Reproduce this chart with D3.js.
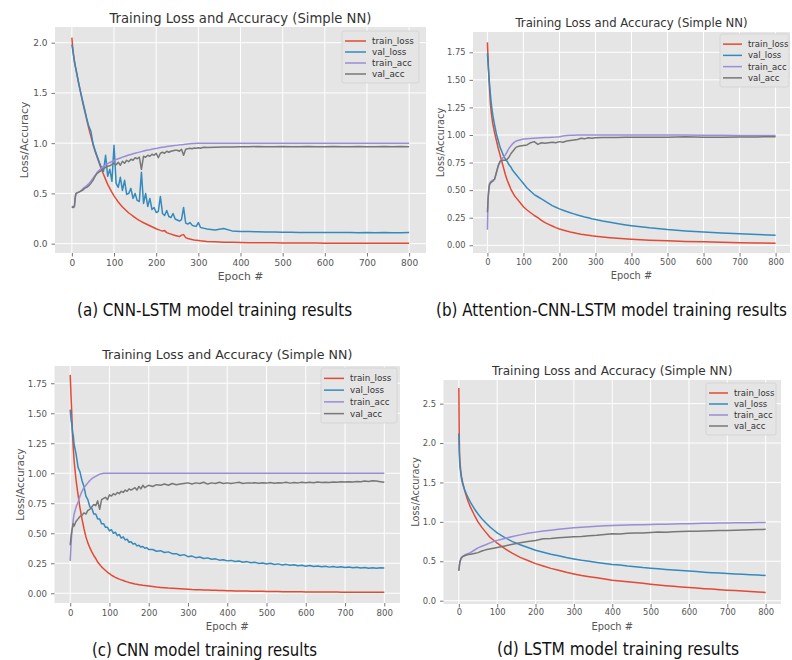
<!DOCTYPE html>
<html>
<head>
<meta charset="utf-8">
<script src="https://cdn.jsdelivr.net/npm/d3@7"></script>
<style>
  body { margin: 0; background: #fff; }
  svg { display: block; }
</style>
</head>
<body>
<svg id="fig" width="792" height="660"></svg>
<script>
// ---- data ----
var seriesNames = ["train_loss", "val_loss", "train_acc", "val_acc"];
var xTicks = [0, 100, 200, 300, 400, 500, 600, 700, 800];
var captions = [
    "(a) CNN-LSTM model training results",
    "(b) Attention-CNN-LSTM model training results",
    "(c) CNN model training results",
    "(d)  LSTM model training results"
];
var chartTitle = "Training Loss and Accuracy (Simple NN)";

// (a) CNN-LSTM
var epochsA = [0,2,4,6,8,10,15,20,25,30,
    35,40,45,50,55,60,65,70,75,80,
    85,90,95,100,105,110,115,120,125,130,
    135,140,145,150,155,160,165,170,175,180,
    185,190,195,200,205,210,215,220,225,230,
    235,240,245,250,255,260,265,270,275,280,
    285,290,295,300,305,310,315,320,340,360,
    380,400,420,440,460,480,500,520,540,560,
    580,600,620,640,660,680,700,720,740,760,
    780,800];
var trainLossA = [2.05,1.95,1.88,1.82,1.77,1.73,1.62,1.52,1.42,1.33,
    1.24,1.15,1.07,0.99,0.92,0.86,0.80,0.74,0.69,0.64,
    0.59,0.55,0.51,0.475,0.445,0.415,0.39,0.365,0.345,0.325,
    0.305,0.29,0.275,0.26,0.245,0.232,0.22,0.208,0.198,0.188,
    0.178,0.168,0.158,0.148,0.14,0.132,0.125,0.13,0.11,0.102,
    0.095,0.088,0.082,0.076,0.07,0.085,0.09,0.06,0.052,0.046,
    0.041,0.037,0.034,0.031,0.028,0.026,0.024,0.022,0.018,0.015,
    0.013,0.011,0.01,0.009,0.008,0.008,0.007,0.007,0.006,0.006,
    0.006,0.005,0.005,0.005,0.005,0.005,0.004,0.004,0.004,0.004,
    0.004,0.004];
var valLossA = [1.98,1.93,1.87,1.81,1.77,1.73,1.62,1.52,1.43,1.34,
    1.25,1.17,1.12,1.0,0.93,0.87,0.81,0.76,0.72,0.88,
    0.67,0.74,0.62,0.98,0.6,0.56,0.66,0.53,0.63,0.49,
    0.5,0.55,0.45,0.5,0.43,0.42,0.71,0.4,0.5,0.37,
    0.45,0.34,0.36,0.31,0.32,0.47,0.3,0.28,0.33,0.27,
    0.26,0.3,0.245,0.235,0.225,0.24,0.36,0.205,0.195,0.21,
    0.185,0.175,0.172,0.21,0.162,0.155,0.152,0.145,0.137,0.15,
    0.127,0.122,0.12,0.118,0.116,0.115,0.113,0.114,0.112,0.111,
    0.112,0.11,0.11,0.111,0.11,0.109,0.11,0.109,0.11,0.108,
    0.109,0.11];
var trainAccA = [0.37,0.37,0.37,0.37,0.45,0.5,0.51,0.52,0.54,0.56,
    0.575,0.595,0.62,0.65,0.68,0.71,0.73,0.75,0.77,0.785,
    0.797,0.808,0.818,0.828,0.837,0.845,0.853,0.861,0.868,0.875,
    0.882,0.888,0.894,0.9,0.906,0.911,0.916,0.921,0.926,0.931,
    0.935,0.94,0.944,0.948,0.952,0.956,0.96,0.963,0.966,0.969,
    0.972,0.975,0.978,0.98,0.983,0.985,0.987,0.99,0.992,0.994,
    0.996,0.997,0.998,0.999,1.0,1.0,1.0,1.0,1.0,1.0,
    1.0,1.0,1.0,1.0,1.0,1.0,1.0,1.0,1.0,1.0,
    1.0,1.0,1.0,1.0,1.0,1.0,1.0,1.0,1.0,1.0,
    1.0,1.0];
var valAccA = [0.37,0.36,0.36,0.37,0.47,0.5,0.51,0.52,0.53,0.55,
    0.56,0.575,0.6,0.63,0.67,0.7,0.715,0.73,0.745,0.76,
    0.77,0.775,0.79,0.8,0.785,0.81,0.78,0.82,0.8,0.83,
    0.815,0.84,0.83,0.855,0.845,0.86,0.74,0.87,0.86,0.88,
    0.87,0.89,0.88,0.9,0.855,0.9,0.91,0.9,0.92,0.91,
    0.92,0.925,0.93,0.93,0.92,0.94,0.88,0.94,0.945,0.95,
    0.945,0.952,0.95,0.955,0.95,0.957,0.96,0.956,0.96,0.962,
    0.963,0.965,0.964,0.966,0.965,0.964,0.966,0.965,0.964,0.966,
    0.965,0.964,0.966,0.965,0.964,0.966,0.965,0.964,0.966,0.965,
    0.966,0.965];

// (b) Attention-CNN-LSTM
var epochsB = [0,1,2,3,4,5,6,8,10,12,
    15,20,25,30,35,40,45,50,55,60,
    65,70,75,80,90,100,110,120,130,140,
    150,160,170,180,190,200,210,220,230,240,
    250,260,270,280,290,300,320,340,360,380,
    400,450,500,550,600,650,700,750,800];
var trainLossB = [1.84,1.76,1.68,1.6,1.53,1.47,1.41,1.3,1.23,1.17,
    1.1,1.02,0.95,0.88,0.82,0.76,0.7,0.64,0.59,0.55,
    0.51,0.48,0.45,0.43,0.39,0.35,0.32,0.295,0.27,0.25,
    0.225,0.205,0.19,0.175,0.16,0.148,0.138,0.129,0.121,0.114,
    0.107,0.101,0.096,0.091,0.086,0.082,0.075,0.069,0.064,0.059,
    0.055,0.046,0.04,0.035,0.031,0.027,0.024,0.021,0.019];
var valLossB = [1.74,1.69,1.64,1.59,1.55,1.5,1.46,1.38,1.31,1.25,
    1.18,1.09,1.01,0.95,0.89,0.85,0.81,0.78,0.76,0.73,
    0.71,0.68,0.66,0.64,0.6,0.56,0.52,0.49,0.46,0.44,
    0.42,0.4,0.38,0.36,0.345,0.33,0.318,0.306,0.295,0.285,
    0.275,0.266,0.257,0.249,0.241,0.234,0.22,0.208,0.197,0.187,
    0.178,0.158,0.142,0.13,0.12,0.111,0.104,0.097,0.091];
var trainAccB = [0.14,0.3,0.42,0.48,0.52,0.55,0.56,0.57,0.58,0.585,
    0.59,0.6,0.66,0.72,0.76,0.78,0.8,0.82,0.85,0.88,
    0.9,0.92,0.935,0.945,0.955,0.963,0.966,0.969,0.971,0.973,
    0.975,0.977,0.978,0.98,0.982,0.985,0.99,0.995,0.997,0.998,
    1.0,1.0,1.0,1.0,1.0,1.0,1.0,1.0,1.0,1.0,
    1.0,1.0,1.0,1.0,0.998,0.997,0.996,0.995,0.995];
var valAccB = [0.3,0.36,0.43,0.47,0.5,0.53,0.55,0.56,0.57,0.575,
    0.58,0.6,0.66,0.72,0.76,0.77,0.77,0.77,0.78,0.8,
    0.83,0.85,0.87,0.89,0.9,0.905,0.91,0.93,0.94,0.915,
    0.93,0.925,0.93,0.935,0.93,0.94,0.935,0.945,0.95,0.955,
    0.96,0.97,0.965,0.975,0.97,0.975,0.977,0.978,0.978,0.98,
    0.98,0.98,0.98,0.985,0.98,0.98,0.982,0.983,0.985];

// (c) CNN
var epochsC = [0,2,4,6,8,10,15,20,25,30,
    35,40,45,50,55,60,65,70,75,80,
    85,90,95,100,105,110,115,120,125,130,
    135,140,145,150,155,160,165,170,175,180,
    185,190,195,200,210,220,230,240,250,260,
    270,280,290,300,310,320,330,340,350,360,
    370,380,390,400,410,420,430,440,450,460,
    470,480,490,500,510,520,530,540,550,560,
    570,580,590,600,610,620,630,640,650,660,
    670,680,690,700,710,720,730,740,750,760,
    770,780,790,800];
var trainLossC = [1.82,1.65,1.5,1.32,1.2,1.1,0.94,0.82,0.71,0.62,
    0.54,0.47,0.42,0.38,0.345,0.315,0.29,0.26,0.24,0.22,
    0.205,0.19,0.175,0.163,0.152,0.142,0.133,0.125,0.118,0.112,
    0.106,0.1,0.095,0.09,0.086,0.082,0.078,0.075,0.072,0.069,
    0.066,0.064,0.062,0.06,0.056,0.052,0.049,0.046,0.043,0.041,
    0.039,0.037,0.035,0.033,0.031,0.03,0.029,0.028,0.027,0.026,
    0.025,0.024,0.023,0.022,0.021,0.02,0.019,0.019,0.018,0.017,
    0.017,0.016,0.016,0.015,0.015,0.014,0.014,0.013,0.013,0.013,
    0.012,0.012,0.012,0.011,0.011,0.011,0.011,0.01,0.01,0.01,
    0.01,0.01,0.009,0.009,0.009,0.009,0.009,0.009,0.008,0.008,
    0.008,0.008,0.008,0.008];
var valLossC = [1.53,1.45,1.41,1.34,1.31,1.24,1.16,1.05,1.01,0.94,
    0.89,0.81,0.78,0.72,0.71,0.66,0.66,0.62,0.62,0.58,
    0.58,0.55,0.55,0.52,0.53,0.5,0.51,0.48,0.49,0.46,
    0.47,0.445,0.45,0.425,0.43,0.41,0.415,0.395,0.4,0.385,
    0.39,0.375,0.38,0.365,0.365,0.35,0.355,0.34,0.345,0.33,
    0.33,0.315,0.322,0.305,0.31,0.297,0.302,0.29,0.295,0.283,
    0.287,0.276,0.28,0.27,0.274,0.265,0.269,0.259,0.264,0.254,
    0.258,0.249,0.253,0.244,0.25,0.24,0.245,0.236,0.241,0.233,
    0.237,0.229,0.234,0.226,0.232,0.223,0.228,0.221,0.226,0.218,
    0.224,0.216,0.221,0.214,0.219,0.212,0.217,0.21,0.215,0.209,
    0.213,0.208,0.212,0.21];
var trainAccC = [0.27,0.4,0.5,0.56,0.62,0.66,0.72,0.76,0.81,0.85,
    0.88,0.9,0.92,0.94,0.955,0.965,0.975,0.985,0.992,0.997,
    1.0,1.0,1.0,1.0,1.0,1.0,1.0,1.0,1.0,1.0,
    1.0,1.0,1.0,1.0,1.0,1.0,1.0,1.0,1.0,1.0,
    1.0,1.0,1.0,1.0,1.0,1.0,1.0,1.0,1.0,1.0,
    1.0,1.0,1.0,1.0,1.0,1.0,1.0,1.0,1.0,1.0,
    1.0,1.0,1.0,1.0,1.0,1.0,1.0,1.0,1.0,1.0,
    1.0,1.0,1.0,1.0,1.0,1.0,1.0,1.0,1.0,1.0,
    1.0,1.0,1.0,1.0,1.0,1.0,1.0,1.0,1.0,1.0,
    1.0,1.0,1.0,1.0,1.0,1.0,1.0,1.0,1.0,1.0,
    1.0,1.0,1.0,1.0];
var valAccC = [0.4,0.47,0.52,0.55,0.58,0.56,0.6,0.62,0.64,0.65,
    0.67,0.66,0.69,0.7,0.72,0.74,0.73,0.77,0.7,0.78,
    0.79,0.8,0.78,0.82,0.81,0.83,0.82,0.84,0.83,0.85,
    0.84,0.86,0.85,0.87,0.86,0.87,0.88,0.86,0.89,0.87,
    0.9,0.88,0.89,0.9,0.89,0.905,0.9,0.91,0.9,0.915,
    0.905,0.91,0.915,0.92,0.91,0.92,0.915,0.925,0.91,0.92,
    0.915,0.925,0.915,0.92,0.915,0.92,0.925,0.915,0.92,0.918,
    0.922,0.916,0.921,0.918,0.923,0.917,0.922,0.92,0.925,0.918,
    0.923,0.92,0.926,0.921,0.925,0.922,0.927,0.923,0.926,0.924,
    0.928,0.925,0.93,0.927,0.93,0.928,0.932,0.929,0.935,0.932,
    0.938,0.935,0.93,0.925];

// (d) LSTM
var epochsD = [0,1,2,3,5,7,10,15,20,25,
    30,40,50,60,70,80,90,100,120,140,
    160,180,200,220,240,260,280,300,320,340,
    360,380,400,420,440,460,480,500,520,540,
    560,580,600,620,640,660,680,700,720,740,
    760,780,800];
var trainLossD = [2.7,2.1,1.85,1.75,1.65,1.57,1.5,1.4,1.32,1.25,
    1.19,1.09,1.0,0.93,0.87,0.81,0.77,0.73,0.66,0.6,
    0.55,0.51,0.47,0.44,0.41,0.385,0.36,0.34,0.32,0.305,
    0.29,0.275,0.26,0.25,0.24,0.23,0.22,0.21,0.2,0.19,
    0.182,0.175,0.168,0.16,0.153,0.147,0.14,0.134,0.128,0.122,
    0.116,0.11,0.105];
var valLossD = [2.12,1.9,1.78,1.7,1.61,1.55,1.48,1.41,1.35,1.3,
    1.25,1.17,1.1,1.04,0.99,0.94,0.9,0.86,0.8,0.75,
    0.71,0.675,0.64,0.615,0.59,0.57,0.548,0.53,0.512,0.5,
    0.486,0.473,0.46,0.452,0.44,0.432,0.42,0.413,0.405,0.397,
    0.39,0.382,0.376,0.37,0.362,0.356,0.35,0.345,0.34,0.334,
    0.33,0.325,0.32];
var trainAccD = [0.38,0.42,0.46,0.49,0.52,0.54,0.56,0.58,0.59,0.6,
    0.61,0.64,0.67,0.69,0.71,0.73,0.75,0.765,0.79,0.815,
    0.835,0.855,0.87,0.885,0.895,0.905,0.915,0.925,0.932,0.938,
    0.944,0.95,0.955,0.958,0.961,0.963,0.965,0.967,0.969,0.971,
    0.973,0.975,0.977,0.979,0.981,0.983,0.985,0.987,0.988,0.989,
    0.99,0.992,0.993];
var valAccD = [0.38,0.43,0.47,0.5,0.53,0.55,0.56,0.57,0.58,0.585,
    0.59,0.6,0.61,0.63,0.645,0.655,0.665,0.675,0.695,0.715,
    0.735,0.75,0.765,0.785,0.79,0.8,0.805,0.81,0.815,0.825,
    0.83,0.84,0.85,0.845,0.855,0.86,0.858,0.865,0.87,0.868,
    0.875,0.878,0.88,0.882,0.885,0.888,0.89,0.892,0.895,0.897,
    0.9,0.902,0.905];

// ---- layout / style ----
var colors = ["#E24A33", "#348ABD", "#988ED5", "#777777"];
var fontMain = "'DejaVu Sans', sans-serif";
var fontCaption = "'Liberation Sans Narrow', 'DejaVu Sans Condensed', sans-serif";

var panels = [
    {epochs: epochsA, series: [trainLossA, valLossA, trainAccA, valAccA], caption: captions[0],
     box: {l: 55, r: 426, t: 27, b: 253}, yDomain: [-0.093, 2.156], yTicks: [0, 0.5, 1, 1.5, 2], yFmt: ".1f",
     titleY: 23, titleSize: 13.2, tickSize: 9, tickPad: 3, labelSize: 10.8, yLabelX: 24, xLabelY: 280,
     legend: {x: 342, y: 31, w: 77, h: 52, size: 8.8, line: 21},
     capX: 77, capY: 316, capW: 275, capSize: 18.5},
    {epochs: epochsB, series: [trainLossB, valLossB, trainAccB, valAccB], caption: captions[1],
     box: {l: 473, r: 790, t: 32, b: 253}, yDomain: [-0.07, 1.934], yTicks: [0, 0.25, 0.5, 0.75, 1, 1.25, 1.5, 1.75], yFmt: ".2f",
     titleY: 27, titleSize: 11.7, tickSize: 8.3, tickPad: 3, labelSize: 9.8, yLabelX: 441, xLabelY: 279,
     legend: {x: 720, y: 34, w: 69, h: 53, size: 8.5, line: 19},
     capX: 436, capY: 316, capW: 351, capSize: 17},
    {epochs: epochsC, series: [trainLossC, valLossC, trainAccC, valAccC], caption: captions[2],
     box: {l: 54.5, r: 400, t: 366, b: 603}, yDomain: [-0.081, 1.894], yTicks: [0, 0.25, 0.5, 0.75, 1, 1.25, 1.5, 1.75], yFmt: ".2f",
     titleY: 358.5, titleSize: 12.6, tickSize: 8.6, tickPad: 3, labelSize: 10.2, yLabelX: 20, xLabelY: 630,
     legend: {x: 321, y: 368, w: 76, h: 55, size: 8.7, line: 20},
     capX: 92, capY: 656, capW: 225, capSize: 18.5},
    {epochs: epochsD, series: [trainLossD, valLossD, trainAccD, valAccD], caption: captions[3],
     box: {l: 443.5, r: 781, t: 380, b: 604}, yDomain: [-0.042, 2.80], yTicks: [0, 0.5, 1, 1.5, 2, 2.5], yFmt: ".1f",
     titleY: 374.5, titleSize: 12.1, tickSize: 8.4, tickPad: 2, labelSize: 9.8, yLabelX: 416, xLabelY: 629.5,
     legend: {x: 706, y: 383, w: 70, h: 52, size: 8.5, line: 19},
     capX: 497, capY: 655, capW: 242, capSize: 18.5}
];

var svg = d3.select("#fig");

function styleAxis(sel, size) {
    sel.select(".domain").remove();
    sel.attr("font-family", fontMain).attr("font-size", size);
    sel.selectAll(".tick line").attr("stroke", "#555").attr("stroke-width", 0.8);
    sel.selectAll(".tick text").attr("fill", "#555");
}

panels.forEach(function(p) {
    var g = svg.append("g");
    var box = p.box;
    var x = d3.scaleLinear().domain([-40, 840]).range([box.l, box.r]);
    var y = d3.scaleLinear().domain(p.yDomain).range([box.b, box.t]);

    g.append("rect")
        .attr("x", box.l).attr("y", box.t)
        .attr("width", box.r - box.l).attr("height", box.b - box.t)
        .attr("fill", "#e5e5e5");

    // grid
    var grid = g.append("g").attr("stroke", "#fff").attr("stroke-width", 1);
    grid.selectAll(".gx").data(xTicks).enter().append("line")
        .attr("x1", function(d) { return x(d); }).attr("x2", function(d) { return x(d); })
        .attr("y1", box.t).attr("y2", box.b);
    grid.selectAll(".gy").data(p.yTicks).enter().append("line")
        .attr("y1", function(d) { return y(d); }).attr("y2", function(d) { return y(d); })
        .attr("x1", box.l).attr("x2", box.r);

    // axes
    g.append("g")
        .attr("transform", "translate(0," + box.b + ")")
        .call(d3.axisBottom(x).tickValues(xTicks).tickSize(3.5).tickPadding(p.tickPad))
        .call(styleAxis, p.tickSize);
    g.append("g")
        .attr("transform", "translate(" + box.l + ",0)")
        .call(d3.axisLeft(y).tickValues(p.yTicks).tickFormat(d3.format(p.yFmt)).tickSize(3.5).tickPadding(4))
        .call(styleAxis, p.tickSize);

    // lines
    var line = d3.line()
        .x(function(d, i) { return x(p.epochs[i]); })
        .y(function(d) { return y(d); });
    p.series.forEach(function(vals, k) {
        g.append("path")
            .datum(vals)
            .attr("fill", "none")
            .attr("stroke", colors[k])
            .attr("stroke-width", 1.5)
            .attr("stroke-linejoin", "round")
            .attr("d", line);
    });

    // title and axis labels
    g.append("text")
        .attr("x", (box.l + box.r) / 2).attr("y", p.titleY)
        .attr("text-anchor", "middle")
        .attr("font-family", fontMain).attr("font-size", p.titleSize)
        .attr("fill", "#333")
        .text(chartTitle);
    g.append("text")
        .attr("x", (box.l + box.r) / 2).attr("y", p.xLabelY)
        .attr("text-anchor", "middle")
        .attr("font-family", fontMain).attr("font-size", p.labelSize)
        .attr("fill", "#555")
        .text("Epoch #");
    g.append("text")
        .attr("transform", "translate(" + p.yLabelX + "," + ((box.t + box.b) / 2) + ") rotate(-90)")
        .attr("text-anchor", "middle")
        .attr("dy", "0.35em")
        .attr("font-family", fontMain).attr("font-size", p.labelSize)
        .attr("fill", "#555")
        .text("Loss/Accuracy");

    // legend
    var L = p.legend;
    var leg = g.append("g").attr("transform", "translate(" + L.x + "," + L.y + ")");
    leg.append("rect")
        .attr("width", L.w).attr("height", L.h).attr("rx", 2)
        .attr("fill", "#e5e5e5").attr("stroke", "#d2d2d2").attr("stroke-width", 0.8);
    var rowH = (L.h - 8) / 4;
    seriesNames.forEach(function(name, k) {
        var cy = 4 + rowH * (k + 0.5) + 0.5;
        leg.append("line")
            .attr("x1", 3).attr("x2", 3 + L.line)
            .attr("y1", cy).attr("y2", cy)
            .attr("stroke", colors[k]).attr("stroke-width", 1.5);
        leg.append("text")
            .attr("x", L.line + 9).attr("y", cy)
            .attr("dy", "0.35em")
            .attr("font-family", fontMain).attr("font-size", L.size)
            .attr("fill", "#333")
            .text(name);
    });

    // caption
    svg.append("text")
        .attr("x", p.capX).attr("y", p.capY)
        .attr("font-family", fontCaption).attr("font-size", p.capSize)
        .attr("fill", "#111")
        .attr("textLength", p.capW).attr("lengthAdjust", "spacingAndGlyphs")
        .text(p.caption);
});
</script>
</body>
</html>
